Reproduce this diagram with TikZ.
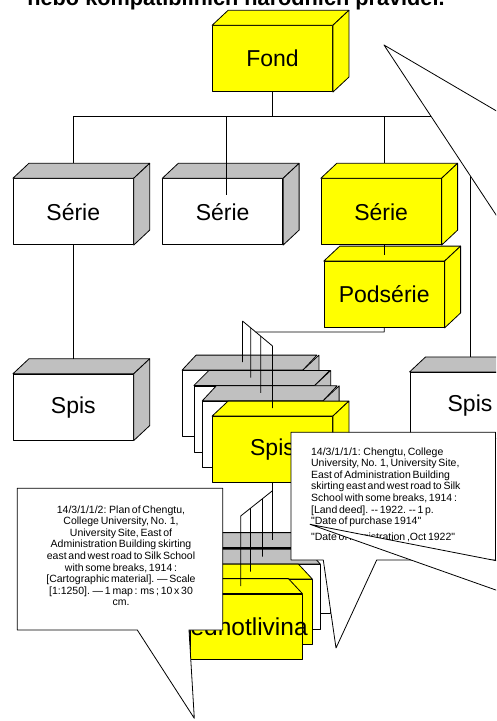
\documentclass[tikz,border=0pt]{standalone}
\usepackage{fontspec}
\setmainfont{Liberation Sans}
\newfontfamily\notefont{Liberation Sans}[WordSpace=0.6,Ligatures=TeXOff]
\usetikzlibrary{calc}
\definecolor{boxgray}{RGB}{192,192,192}
\definecolor{boxyellow}{RGB}{255,255,0}

% faces of the 3D boxes
\newcommand{\cubetop}[3]{\filldraw[fill=#2] (#1.north west) -- ($(#1.north west)+(#3,-15)$) -- ($(#1.north east)+(#3,-15)$) -- (#1.north east) -- cycle;}
\newcommand{\cuberight}[2]{\filldraw[fill=#2] (#1.north east) -- ($(#1.north east)+(16,-15)$) -- ($(#1.south east)+(16,-15)$) -- (#1.south east) -- cycle;}
\newcommand{\cubeleft}[2]{\filldraw[fill=#2] (#1.north west) -- ($(#1.north west)+(-14,-15)$) -- ($(#1.south west)+(-14,-15)$) -- (#1.south west) -- cycle;}

\tikzset{
  unit/.style={draw,fill=white,minimum width=120,minimum height=66,inner sep=0,font=\fontsize{23}{27}\selectfont},
  item/.style={unit,minimum width=112,minimum height=65},
  note/.style={inner sep=0,font=\notefont\fontsize{10.5}{11.6}\selectfont},
}

\begin{document}
\begin{tikzpicture}[x=1pt,y=-1pt,line width=0.8pt,line join=round]
\useasboundingbox (0,0) rectangle (496,721);
\clip (0,0) rectangle (496,721);

\node[anchor=base,font=\bfseries\fontsize{21.7}{26}\selectfont] (title) at (236,5) {nebo kompatibilních národních pravidel.};

% fond, serie, podserie, spis
\node[unit,fill=boxyellow] (fond) at (272.5,58.7) {Fond};
\cubetop{fond}{boxyellow}{16} \cuberight{fond}{boxyellow}
\node[unit] (serieA) at (73.3,211.7) {Série};
\cubetop{serieA}{boxgray}{16} \cuberight{serieA}{boxgray}
\node[unit] (serieB) at (222.7,211.7) {Série};
\cubetop{serieB}{boxgray}{16} \cuberight{serieB}{boxgray}
\node[unit,fill=boxyellow] (serieC) at (381.2,211.7) {Série};
\cubetop{serieC}{boxyellow}{16} \cuberight{serieC}{boxyellow}
\node[unit,fill=boxyellow] (podserie) at (384.2,294.5) {Podsérie};
\cubetop{podserie}{boxyellow}{16} \cuberight{podserie}{boxyellow}
\node[unit] (spisL) at (73.3,407.2) {Spis};
\cubetop{spisL}{boxgray}{16} \cuberight{spisL}{boxgray}
\node[unit] (spisR) at (470,405.3) {Spis};
\cubetop{spisR}{boxgray}{16} \cuberight{spisR}{boxgray}

% connectors
\coordinate (bus) at (0,116.7);
\coordinate (tapB) at ([xshift=4pt]serieB.north);
\draw (fond.south) -- (fond.south |- bus);
\draw (serieA.north |- bus) -- (spisR.north |- bus);
\draw (serieA.north |- bus) -- ([yshift=15pt]serieA.north);
\draw (tapB |- bus) -- ([yshift=-17pt]tapB);
\draw (podserie.north |- bus) -- ($(podserie.north |- serieC.north)+(0,-15)$);
\draw (podserie.north |- serieC.south) -- ++(0,10);
\draw (serieA.south) -- ([yshift=15pt]spisL.north);
\draw (spisR.north |- bus) -- ([yshift=15pt]spisR.north);

% stack of spisy
\node[unit] (spis1) at (242.5,403.5) {};
\cubetop{spis1}{boxgray}{14} \cuberight{spis1}{boxgray}
\node[unit] (spis2) at (254.3,418.9) {};
\cubetop{spis2}{boxgray}{15} \cuberight{spis2}{boxgray}
\node[unit] (spis3) at (262.7,434.2) {};
\cubetop{spis3}{boxgray}{14} \cuberight{spis3}{boxgray}
\node[unit,fill=boxyellow] (spis4) at (272.5,449.5) {Spis};
\cubetop{spis4}{boxyellow}{16} \cuberight{spis4}{boxyellow}

\coordinate (upA) at (242.5,321);
\coordinate (upB) at (272.5,346);
\coordinate (pk) at ($(podserie.south)+(0,4)$);
\coordinate (pkw) at (pk -| upA);
\draw (podserie.south) -- (pk) -- (intersection of upA--upB and pk--pkw);
\draw (upA) -- (upB);
\foreach \s/\dx in {spis1/0,spis2/-3.5,spis3/-2,spis4/0}{
  \coordinate (tap) at ([xshift=\dx pt]\s.north);
  \coordinate (tapd) at ([yshift=-10pt]tap);
  \draw (intersection of upA--upB and tap--tapd) -- ([yshift=8pt]tap);
}

% stack of jednotliviny
\node[item] (jedn1) at (274,580.5) {};
\cubetop{jedn1}{boxgray}{-14} \cubeleft{jedn1}{boxgray}
\node[item] (jedn2) at (264,597) {};
\cubetop{jedn2}{boxgray}{-14} \cubeleft{jedn2}{boxgray}
\node[item,fill=boxyellow] (jedn3) at (256,612) {};
\cubetop{jedn3}{boxyellow}{-14} \cubeleft{jedn3}{boxyellow}
\node[item,fill=boxyellow] (jedn4) at (246,626.5) {};
\cubetop{jedn4}{boxyellow}{-14} \cubeleft{jedn4}{boxyellow}
\node[font=\fontsize{24.5}{28}\selectfont,inner sep=0] (jlabel) at (243,627) {Jednotlivina};

\coordinate (loB) at (272.5,490.7);
\coordinate (loA) at (240.7,516);
\draw (spis4.south) -- ($(spis4.south |- jedn1.north)+(0,-8)$);
\draw (loB) -- (loA);
\foreach \j/\dx in {jedn2/-1.5,jedn3/-5.5,jedn4/-5.3}{
  \coordinate (tap) at ([xshift=\dx pt]\j.north);
  \coordinate (tapd) at ([yshift=-10pt]tap);
  \draw (intersection of loA--loB and tap--tapd) -- ([yshift=7.5pt]tap);
}

% callouts
\filldraw[fill=white] (291,432.3) -- (495.5,432.3) -- (495.5,560) -- (376.7,560) -- (336,648) -- (323.3,560) -- (291,560) -- cycle;
\node[note,anchor=north west,align=left] (noteA) at (310.7,447) {14/3/1/1/1: Chengtu, College\\ University, No. 1, University Site,\\ East of Administration Building\\ skirting east and west road to Silk\\ School with some breaks, 1914 :\\ {[Land deed]}. -- 1922. -- 1 p.\\ "Date of purchase 1914"\\[4pt] "Date of Registration ,Oct 1922"};
\filldraw[fill=white] (17.3,488.3) -- (222.7,488.3) -- (222.7,630) -- (189,630) -- (194.3,718.3) -- (137.3,630) -- (17.3,630) -- cycle;
\node[note,anchor=north,align=center] (noteB) at (121,505) {14/3/1/1/2: Plan of Chengtu,\\ College University, No. 1,\\ University Site, East of\\ Administration Building skirting\\ east and west road to Silk School\\ with some breaks, 1914 :\\ {[Cartographic material]}. — Scale\\ {[1:1250]}. — 1 map : ms ; 10 x 30\\ cm.};
% pointers of callouts lying off the slide
\filldraw[fill=white] (384,45) -- (510,118.9) -- (510,236) -- cycle;
\filldraw[fill=white] (310,524.3) -- (510,563.4) -- (510,595) -- cycle;
\end{tikzpicture}
\end{document}
